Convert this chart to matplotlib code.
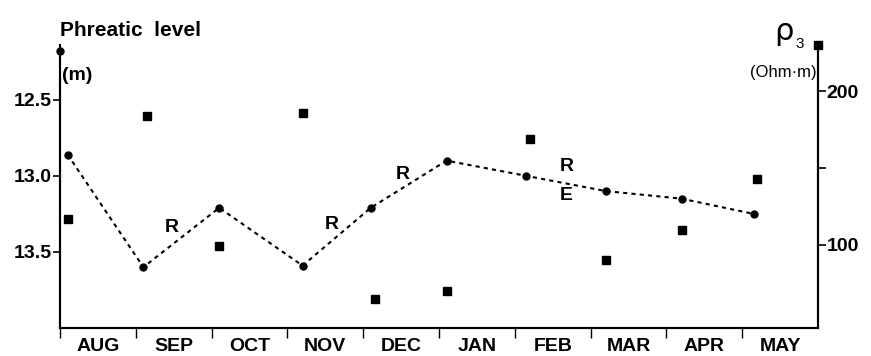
import matplotlib
matplotlib.use("Agg")
from matplotlib import pyplot as plt

plt.rcParams['font.family'] = ['Liberation Sans', 'DejaVu Sans']

# months along the bottom axis (each month spans one unit)
months = ['AUG', 'SEP', 'OCT', 'NOV', 'DEC', 'JAN', 'FEB', 'MAR', 'APR', 'MAY']

# phreatic level (m), measured early in each month
level_pos = [0.1, 1.1, 2.1, 3.2, 4.1, 5.1, 6.15, 7.2, 8.2, 9.15]
level = [12.86, 13.60, 13.21, 13.59, 13.21, 12.90, 13.00, 13.10, 13.15, 13.25]

# rho_3 (Ohm.m)
rho_pos = [0.1, 1.15, 2.1, 3.2, 4.15, 5.1, 6.2, 7.2, 8.2, 9.2]
rho = [117, 184, 99, 186, 65, 70, 169, 90, 110, 143]

# R / E marks along the level curve
marks = ['R', 'R', 'R', 'R', 'E']
mark_pos = [1.48, 3.58, 4.52, 6.68, 6.68]
mark_level = [13.34, 13.32, 12.99, 12.94, 13.13]

fig = plt.figure(figsize=(8.71, 3.56), dpi=100)
ax = fig.add_axes([60/871, 1-328/356, 758/871, 283/356])
ax2 = ax.twinx()

ax.plot(level_pos, level, color='black', linestyle=(0, (2, 2)), linewidth=1.5,
        marker='o', markersize=5)
ax2.plot(rho_pos, rho, linestyle='none', marker='s', color='black', markersize=6)

for t, x, y in zip(marks, mark_pos, mark_level):
    ax.text(x, y, t, fontsize=14, fontweight='bold', ha='center', va='center')

ax.set_xlim(0, 10)
ax.set_ylim(14.0, 12.14)
ax2.set_ylim(46, 230)

# left axis
ax.set_yticks([12.5, 13.0, 13.5])
ax.set_yticklabels(['12.5', '13.0', '13.5'], fontsize=14, fontweight='bold')
ax.tick_params(axis='y', direction='out', length=5, width=1.2, pad=1)

# bottom axis: ticks at month boundaries, labels at middles
ax.set_xticks(range(10))
ax.set_xticklabels([])
ax.set_xticks([i + 0.5 for i in range(10)], minor=True)
ax.set_xticklabels(months, minor=True, fontsize=14, fontweight='bold')
ax.tick_params(axis='x', which='major', direction='out', length=7, width=1)
ax.tick_params(axis='x', which='minor', length=0, pad=7)

# right axis
ax2.set_yticks([100, 150, 200])
ax2.set_yticklabels(['100', '', '200'], fontsize=14, fontweight='bold')
ax2.tick_params(axis='y', direction='out', length=6, width=1.2, pad=0)

for a in (ax, ax2):
    a.spines['top'].set_visible(False)
    a.spines['left'].set_linewidth(1.5)
    a.spines['right'].set_linewidth(1.5)
    a.spines['bottom'].set_linewidth(1.5)

ax.spines['left'].set_bounds(14.0, 12.18)

# symbols at the top of the two axes
ax.plot([0], [12.18], marker='o', color='black', markersize=5, clip_on=False)
ax2.plot([10], [230], marker='s', color='black', markersize=6, clip_on=False)

fig.text(60/871, 1-31/356, 'Phreatic  level', fontsize=15, fontweight='bold',
         ha='left', va='center')
fig.text(62/871, 1-75/356, '(m)', fontsize=14, fontweight='bold', ha='left', va='center')
fig.text(774/871, 1-31/356, '\u03c1', fontsize=22, ha='left', va='center',
         family=['DejaVu Sans'])
fig.text(795/871, 1-44/356, '3', fontsize=11, ha='left', va='center')
fig.text(817/871, 1-72/356, '(Ohm\u00b7m)', fontsize=12,
         ha='right', va='center')

fig.savefig('out.png', dpi=100)
